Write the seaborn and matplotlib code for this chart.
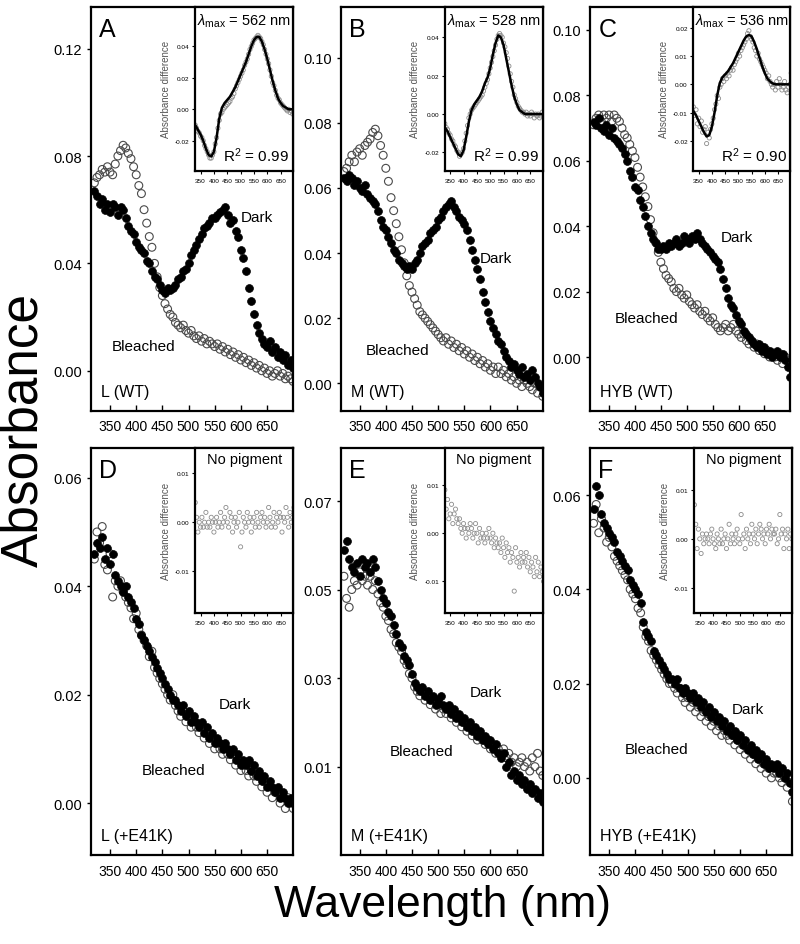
import numpy as np
import matplotlib
matplotlib.use("Agg")
import matplotlib.pyplot as plt
import matplotlib.ticker as mticker
import seaborn as sns

# wavelength grids (nm)
wl = np.arange(320, 701, 5)
wl_diff = np.arange(330, 701, 5)
wl_fit = np.arange(330, 701, 10)

# --- main spectra, absorbance in mOD (1e-3) ---
dark_a = [67, 65, 62, 64, 60, 62, 59, 62, 61, 58,
          61, 60, 57, 54, 52, 51, 48, 46, 45, 44,
          41, 40, 37, 35, 34, 32, 30, 29, 31, 30,
          31, 32, 34, 35, 37, 38, 40, 43, 45, 47,
          49, 51, 53, 54, 55, 57, 57, 58, 59, 60,
          61, 58, 55, 56, 52, 50, 45, 42, 37, 31,
          26, 21, 17, 14, 12, 10, 9, 11, 7, 9,
          5, 7, 4, 6, 2, 4, 1]
bleached_a = [70, 72, 73, 75, 74, 76, 74, 73, 77, 80,
              82, 84, 83, 81, 79, 76, 73, 69, 66, 60,
              55, 50, 46, 40, 35, 31, 28, 25, 23, 21,
              20, 18, 17, 16, 17, 15, 14, 15, 13, 12,
              13, 11, 12, 10, 11, 10, 9, 10, 8, 9,
              7, 8, 6, 7, 5, 6, 4, 5, 3, 4,
              2, 3, 1, 2, 0, 1, -1, 0, -2, -1,
              0, -2, -1, -3, -2, -3, -4]

dark_b = [63, 62, 64, 63, 61, 62, 60, 59, 61, 58,
          57, 56, 55, 53, 50, 48, 47, 45, 43, 41,
          40, 38, 37, 36, 35, 36, 35, 37, 38, 40,
          42, 43, 44, 46, 47, 48, 50, 51, 53, 54,
          55, 56, 54, 53, 51, 50, 49, 47, 44, 41,
          38, 35, 32, 28, 25, 22, 19, 17, 15, 13,
          12, 10, 8, 7, 5, 6, 4, 3, 5, 2,
          3, 1, 4, 2, 0, -1, -3]
bleached_b = [65, 66, 68, 70, 68, 71, 72, 70, 73, 74,
              75, 77, 78, 76, 73, 70, 66, 62, 57, 53,
              49, 45, 41, 37, 33, 30, 28, 26, 24, 22,
              21, 20, 19, 18, 17, 16, 15, 14, 13, 14,
              12, 13, 11, 12, 10, 11, 9, 10, 8, 9,
              7, 8, 6, 7, 5, 6, 4, 5, 3, 5,
              3, 4, 2, 3, 1, 2, 0, 1, -1, 1,
              0, -1, -2, 0, -3, -1, -4]

dark_c = [72, 71, 73, 70, 69, 71, 68, 70, 67, 66,
          65, 64, 62, 60, 57, 55, 52, 51, 48, 46,
          43, 40, 38, 36, 35, 33, 33, 34, 33, 35,
          34, 35, 36, 34, 35, 37, 36, 35, 37, 36,
          38, 36, 35, 34, 33, 32, 31, 30, 29, 27,
          24, 21, 18, 16, 15, 13, 11, 10, 8, 7,
          6, 5, 4, 3, 4, 2, 3, 1, 2, 0,
          1, 2, 0, 1, -1, -3, -6]
bleached_c = [71, 73, 74, 72, 74, 73, 74, 72, 74, 73,
              72, 70, 68, 67, 65, 63, 61, 58, 55, 52,
              49, 46, 42, 38, 35, 32, 29, 27, 25, 24,
              23, 21, 20, 21, 19, 18, 19, 17, 16, 15,
              16, 14, 13, 14, 12, 11, 12, 10, 9, 8,
              9, 10, 8, 9, 10, 8, 7, 6, 7, 5,
              4, 5, 3, 4, 2, 3, 1, 2, 0, 1,
              0, -1, 1, -2, 0, -1, -3]

dark_d = [46, 48, 47, 49, 45, 47, 44, 46, 42, 41,
          40, 39, 40, 38, 37, 36, 34, 33, 31, 30,
          29, 28, 27, 26, 25, 24, 23, 22, 21, 20,
          19, 19, 18, 17, 18, 16, 17, 15, 16, 15,
          14, 15, 13, 14, 12, 13, 11, 12, 11, 10,
          11, 10, 9, 10, 8, 9, 7, 8, 7, 8,
          6, 7, 5, 6, 4, 5, 3, 4, 3, 2,
          3, 1, 2, 1, 0, 1, 0]
bleached_d = [45, 50, 48, 51, 44, 43, 46, 38, 41, 40,
              41, 39, 38, 37, 36, 34, 35, 32, 31, 30,
              29, 27, 28, 25, 24, 23, 22, 21, 20, 19,
              20, 18, 17, 16, 17, 15, 16, 14, 15, 14,
              13, 14, 12, 13, 11, 12, 10, 11, 10, 9,
              10, 9, 8, 9, 7, 8, 6, 7, 6, 5,
              6, 5, 4, 5, 3, 4, 2, 3, 1, 2,
              2, 0, 1, -1, 1, 0, -1]

dark_e = [59, 61, 57, 55, 54, 56, 53, 57, 55, 56,
          54, 57, 55, 52, 50, 48, 47, 45, 44, 42,
          40, 38, 37, 35, 34, 33, 31, 29, 28, 27,
          28, 26, 27, 25, 26, 24, 25, 26, 24, 23,
          24, 22, 23, 21, 22, 20, 21, 19, 20, 18,
          19, 17, 18, 16, 17, 15, 16, 14, 15, 13,
          12, 13, 10, 11, 8, 9, 7, 8, 6, 7,
          5, 6, 4, 5, 3, 4, 2]
bleached_e = [53, 48, 46, 50, 52, 51, 54, 52, 53, 51,
              53, 50, 52, 49, 47, 46, 44, 43, 41, 40,
              38, 37, 36, 34, 33, 31, 30, 28, 27, 26,
              27, 25, 26, 24, 25, 23, 24, 22, 23, 22,
              23, 21, 22, 20, 21, 19, 20, 18, 19, 17,
              18, 16, 17, 16, 15, 16, 14, 15, 13, 14,
              13, 14, 12, 13, 11, 12, 10, 11, 12, 10,
              11, 9, 12, 10, 13, 9, 8]

dark_f = [57, 62, 60, 56, 54, 53, 52, 51, 50, 48,
          47, 46, 45, 44, 42, 41, 40, 39, 37, 33,
          31, 30, 29, 27, 26, 25, 24, 23, 22, 21,
          21, 20, 21, 19, 18, 19, 18, 17, 18, 16,
          17, 15, 16, 14, 15, 13, 14, 12, 13, 11,
          12, 10, 11, 9, 10, 8, 9, 7, 8, 6,
          7, 5, 6, 4, 5, 3, 4, 2, 3, 2,
          3, 1, 2, 0, 1, -1, -3]
bleached_f = [54, 58, 52, 55, 53, 50, 51, 49, 47, 46,
              45, 44, 43, 42, 40, 39, 38, 36, 35, 32,
              30, 29, 27, 26, 25, 24, 23, 22, 21, 20,
              20, 19, 18, 19, 17, 16, 17, 15, 16, 14,
              15, 13, 14, 12, 13, 11, 12, 10, 11, 9,
              10, 9, 8, 9, 7, 8, 6, 7, 5, 6,
              4, 5, 3, 4, 2, 3, 1, 2, 0, 1,
              1, 0, -1, 0, -2, -1, -5]

# --- difference spectra (dark - bleached), mOD ---
diff_a = [-10, -12, -14, -15, -17, -18, -20, -23, -25, -27,
          -29, -31, -31, -29, -27, -22, -18, -12, -7, -3,
          -2, 0, 1, 2, 3, 4, 5, 7, 8, 10,
          13, 15, 17, 19, 21, 23, 25, 28, 30, 32,
          35, 38, 40, 42, 44, 45, 46, 47, 46, 45,
          43, 41, 38, 35, 32, 29, 25, 21, 17, 15,
          12, 9, 7, 6, 4, 3, 2, 1, 0, -1,
          0, -2, -1, -3, -2]
fit_a = [-10, -13, -16, -20, -25, -29, -30, -27, -18, -6,
         1, 4, 6, 8, 11, 14, 18, 22, 26, 30,
         35, 40, 44, 46, 46, 43, 38, 32, 25, 18,
         12, 7, 4, 2, 1, 0, 0, 0]

diff_b = [-5, -7, -8, -10, -11, -13, -14, -16, -17, -19,
          -20, -22, -21, -20, -18, -14, -10, -6, -2, 0,
          2, 3, 4, 5, 6, 7, 8, 9, 10, 12,
          14, 16, 18, 21, 24, 27, 30, 33, 36, 39,
          41, 42, 41, 40, 37, 35, 32, 29, 25, 21,
          17, 14, 10, 8, 6, 4, 3, 2, 1, 1,
          0, 1, -1, 0, -1, 1, 0, -2, 0, -1,
          0, -2, -1, 1, -1]
fit_b = [-7, -9, -12, -15, -18, -21, -22, -19, -12, -4,
         2, 5, 7, 9, 12, 16, 19, 24, 31, 37,
         41, 40, 36, 29, 22, 15, 9, 5, 2, 1,
         0, 0, 0, 0, 0, 0, 0, 0]

diff_c = [-8, -11, -9, -14, -12, -15, -13, -17, -16, -15,
          -21, -17, -19, -16, -14, -12, -9, -7, -4, -5,
          -1, 0, 2, 1, 3, 2, 4, 3, 5, 6,
          5, 7, 8, 9, 11, 10, 12, 13, 14, 15,
          16, 18, 19, 17, 16, 15, 13, 12, 10, 11,
          9, 8, 7, 6, 5, 4, 2, 3, 1, 0,
          -1, 0, -2, 1, -1, 2, 0, -2, -1, 1,
          -2, -3, -1, 0, 4]
fit_c = [-9.5, -11, -13, -15, -17, -18.5, -18, -15, -10, -4,
         0.5, 2.5, 3.5, 4.5, 6, 7.5, 9.5, 11.5, 13.5, 15.5,
         17, 17.5, 17, 15, 12.5, 9.5, 6.5, 4, 2, 1,
         0.3, 0, 0, 0, 0, 0, 0, 0]

diff_d = [4, 1, -2, 0, -1, 1, -1, 0, 2, -1,
          0, -1, 1, 0, -2, 0, 1, -1, 0, 2,
          -1, 0, 1, 3, 0, -1, 2, 1, -2, 0,
          1, -1, 0, 2, -5, -2, 1, 0, -1, 2,
          0, 1, -2, 0, 1, -1, 2, 0, -1, 1,
          2, 0, 1, -1, 0, 3, 1, -1, 0, 2,
          -1, 1, 0, 2, 1, -2, 1, 0, 3, 1,
          -1, 2, 0, 1, 3]
diff_e = [9, 5, 7, 3, 4, 6, 2, 4, 5, 3,
          2, 3, 1, 0, 2, 1, -1, 1, 0, 2,
          1, -1, 0, 2, 0, -2, 1, -1, 0, -1,
          -2, 0, -1, 1, -1, -2, 0, -3, -1, -2,
          -3, -2, -4, -1, -3, -5, -2, -4, -3, -6,
          -4, -5, -12, -3, -6, -5, -7, -4, -6, -5,
          -6, -4, -7, -5, -8, -6, -7, -9, -5, -8,
          -6, -9, -7, -8, -10]
diff_f = [7, 3, -2, 2, 0, -3, 1, -1, 0, 1,
          0, -1, 1, 2, 0, -1, -2, 1, 0, -1,
          2, -1, 0, 1, -2, 0, 3, -1, 1, 0,
          -1, 1, 2, 0, -1, 5, 0, 1, -2, 2,
          0, 1, -1, 3, 1, 0, 2, -1, 1, 3,
          2, 0, 1, -1, 2, 1, 3, 0, 2, 1,
          1, 2, -1, 0, 5, 1, 2, -2, 1, 0,
          2, -2, 1, 0, -2]

# layout / labelling of each panel
panels = [
    dict(letter="A", name="L (WT)", dark=dark_a, bleached=bleached_a, diff=diff_a, fit=fit_a,
         title=r"$\lambda_{\rm max}$ = 562 nm", r2="0.99",
         pos=[0.114, 0.564, 0.2525, 0.4275], ylim=(-0.015, 0.1355), yticks=[0, 0.04, 0.08, 0.12],
         iylim=(-0.039, 0.065), iyticks=[-0.02, 0, 0.02, 0.04],
         dark_xy=(0.82, 0.48), bl_xy=(0.26, 0.16)),
    dict(letter="B", name="M (WT)", dark=dark_b, bleached=bleached_b, diff=diff_b, fit=fit_b,
         title=r"$\lambda_{\rm max}$ = 528 nm", r2="0.99",
         pos=[0.426, 0.564, 0.2525, 0.4275], ylim=(-0.0085, 0.1155), yticks=[0, 0.02, 0.04, 0.06, 0.08, 0.10],
         iylim=(-0.0295, 0.0558), iyticks=[-0.02, 0, 0.02, 0.04],
         dark_xy=(0.77, 0.38), bl_xy=(0.28, 0.15)),
    dict(letter="C", name="HYB (WT)", dark=dark_c, bleached=bleached_c, diff=diff_c, fit=fit_c,
         title=r"$\lambda_{\rm max}$ = 536 nm", r2="0.90",
         pos=[0.738, 0.564, 0.25, 0.4275], ylim=(-0.0165, 0.107), yticks=[0, 0.02, 0.04, 0.06, 0.08, 0.10],
         iylim=(-0.0306, 0.0274), iyticks=[-0.02, -0.01, 0, 0.01, 0.02],
         dark_xy=(0.73, 0.43), bl_xy=(0.28, 0.23)),
    dict(letter="D", name="L (+E41K)", dark=dark_d, bleached=bleached_d, diff=diff_d, fit=None,
         title="No pigment", r2=None,
         pos=[0.114, 0.094, 0.2525, 0.431], ylim=(-0.0096, 0.0655), yticks=[0, 0.02, 0.04, 0.06],
         iylim=(-0.0184, 0.0151), iyticks=[-0.01, 0, 0.01],
         dark_xy=(0.71, 0.37), bl_xy=(0.41, 0.21)),
    dict(letter="E", name="M (+E41K)", dark=dark_e, bleached=bleached_e, diff=diff_e, fit=None,
         title="No pigment", r2=None,
         pos=[0.426, 0.094, 0.2525, 0.431], ylim=(-0.010, 0.082), yticks=[0.01, 0.03, 0.05, 0.07],
         iylim=(-0.0165, 0.0177), iyticks=[-0.01, 0, 0.01],
         dark_xy=(0.72, 0.40), bl_xy=(0.40, 0.256)),
    dict(letter="F", name="HYB (+E41K)", dark=dark_f, bleached=bleached_f, diff=diff_f, fit=None,
         title="No pigment", r2=None,
         pos=[0.738, 0.094, 0.2525, 0.431], ylim=(-0.0164, 0.070), yticks=[0, 0.02, 0.04, 0.06],
         iylim=(-0.0152, 0.0187), iyticks=[-0.01, 0, 0.01],
         dark_xy=(0.78, 0.36), bl_xy=(0.33, 0.26)),
]

sns.set_style("ticks")
plt.rcParams["font.family"] = ["Liberation Sans", "DejaVu Sans"]
plt.rcParams["mathtext.fontset"] = "custom"
plt.rcParams["mathtext.rm"] = "Liberation Sans"
plt.rcParams["mathtext.it"] = "Liberation Sans:italic"
for key in ["text.color", "axes.labelcolor", "xtick.color", "ytick.color"]:
    plt.rcParams[key] = "black"

fig = plt.figure(figsize=(8, 9.45), dpi=100)
xticks = [350, 400, 450, 500, 550, 600, 650]

for p in panels:
    ax = fig.add_axes(p["pos"])
    sns.scatterplot(x=wl, y=np.array(p["bleached"]) / 1000, ax=ax, s=32,
                    facecolors="none", edgecolor="#4a4a4a", linewidth=0.8, zorder=2)
    sns.scatterplot(x=wl, y=np.array(p["dark"]) / 1000, ax=ax, s=32,
                    color="black", edgecolor="black", linewidth=0.5, zorder=3)
    ax.set_xlim(314, 700)
    ax.set_ylim(*p["ylim"])
    ax.set_xticks(xticks)
    ax.set_yticks(p["yticks"])
    ax.yaxis.set_major_formatter(mticker.FormatStrFormatter("%.2f"))
    ax.tick_params(axis="x", direction="in", length=4, width=1, labelsize=10, pad=6)
    ax.tick_params(axis="y", direction="out", length=3, width=1, labelsize=10.5)
    ax.set_xlabel("")
    ax.set_ylabel("")
    for sp in ax.spines.values():
        sp.set_linewidth(1.6)
        sp.set_color("black")

    ax.text(0.04, 0.975, p["letter"], transform=ax.transAxes, fontsize=18, va="top", ha="left")
    ax.text(0.05, 0.03, p["name"], transform=ax.transAxes, fontsize=11.5, va="bottom", ha="left")
    ax.text(*p["dark_xy"], "Dark", transform=ax.transAxes, fontsize=11, ha="center", va="center")
    ax.text(*p["bl_xy"], "Bleached", transform=ax.transAxes, fontsize=11, ha="center", va="center")

    # inset with the difference spectrum
    ins = ax.inset_axes([0.515, 0.595, 0.485, 0.405])
    sns.scatterplot(x=wl_diff, y=np.array(p["diff"]) / 1000, ax=ins, s=9,
                    facecolors="none", edgecolor="#8c8c8c", linewidth=0.6)
    if p["fit"] is not None:
        sns.lineplot(x=wl_fit, y=np.array(p["fit"]) / 1000, ax=ins, color="black", linewidth=1.8)
        ins.text(0.96, 0.04, r"R$^2$ = " + p["r2"], transform=ins.transAxes,
                 fontsize=11, ha="right", va="bottom")
    ins.text(0.5, 0.975, p["title"], transform=ins.transAxes, fontsize=10.5, ha="center", va="top")
    ins.set_xlim(330, 697)
    ins.set_ylim(*p["iylim"])
    ins.set_xticks(xticks)
    ins.set_yticks(p["iyticks"])
    ins.yaxis.set_major_formatter(mticker.FormatStrFormatter("%.2f"))
    ins.tick_params(axis="x", direction="out", length=2, width=0.8, labelsize=4.6, pad=3)
    ins.tick_params(axis="y", direction="out", length=2, width=0.8, labelsize=4.6, pad=2)
    ins.set_xlabel("")
    ins.set_ylabel("Absorbance difference", fontsize=7, color="#555555", labelpad=3)
    ins.set_facecolor("white")
    for sp in ins.spines.values():
        sp.set_linewidth(1.6)
        sp.set_color("black")

fig.text(0.03, 0.545, "Absorbance", rotation=90, fontsize=37, ha="center", va="center")
fig.text(0.553, 0.042, "Wavelength (nm)", fontsize=32, ha="center", va="center")

fig.savefig("out.png", dpi=100, facecolor="white")
